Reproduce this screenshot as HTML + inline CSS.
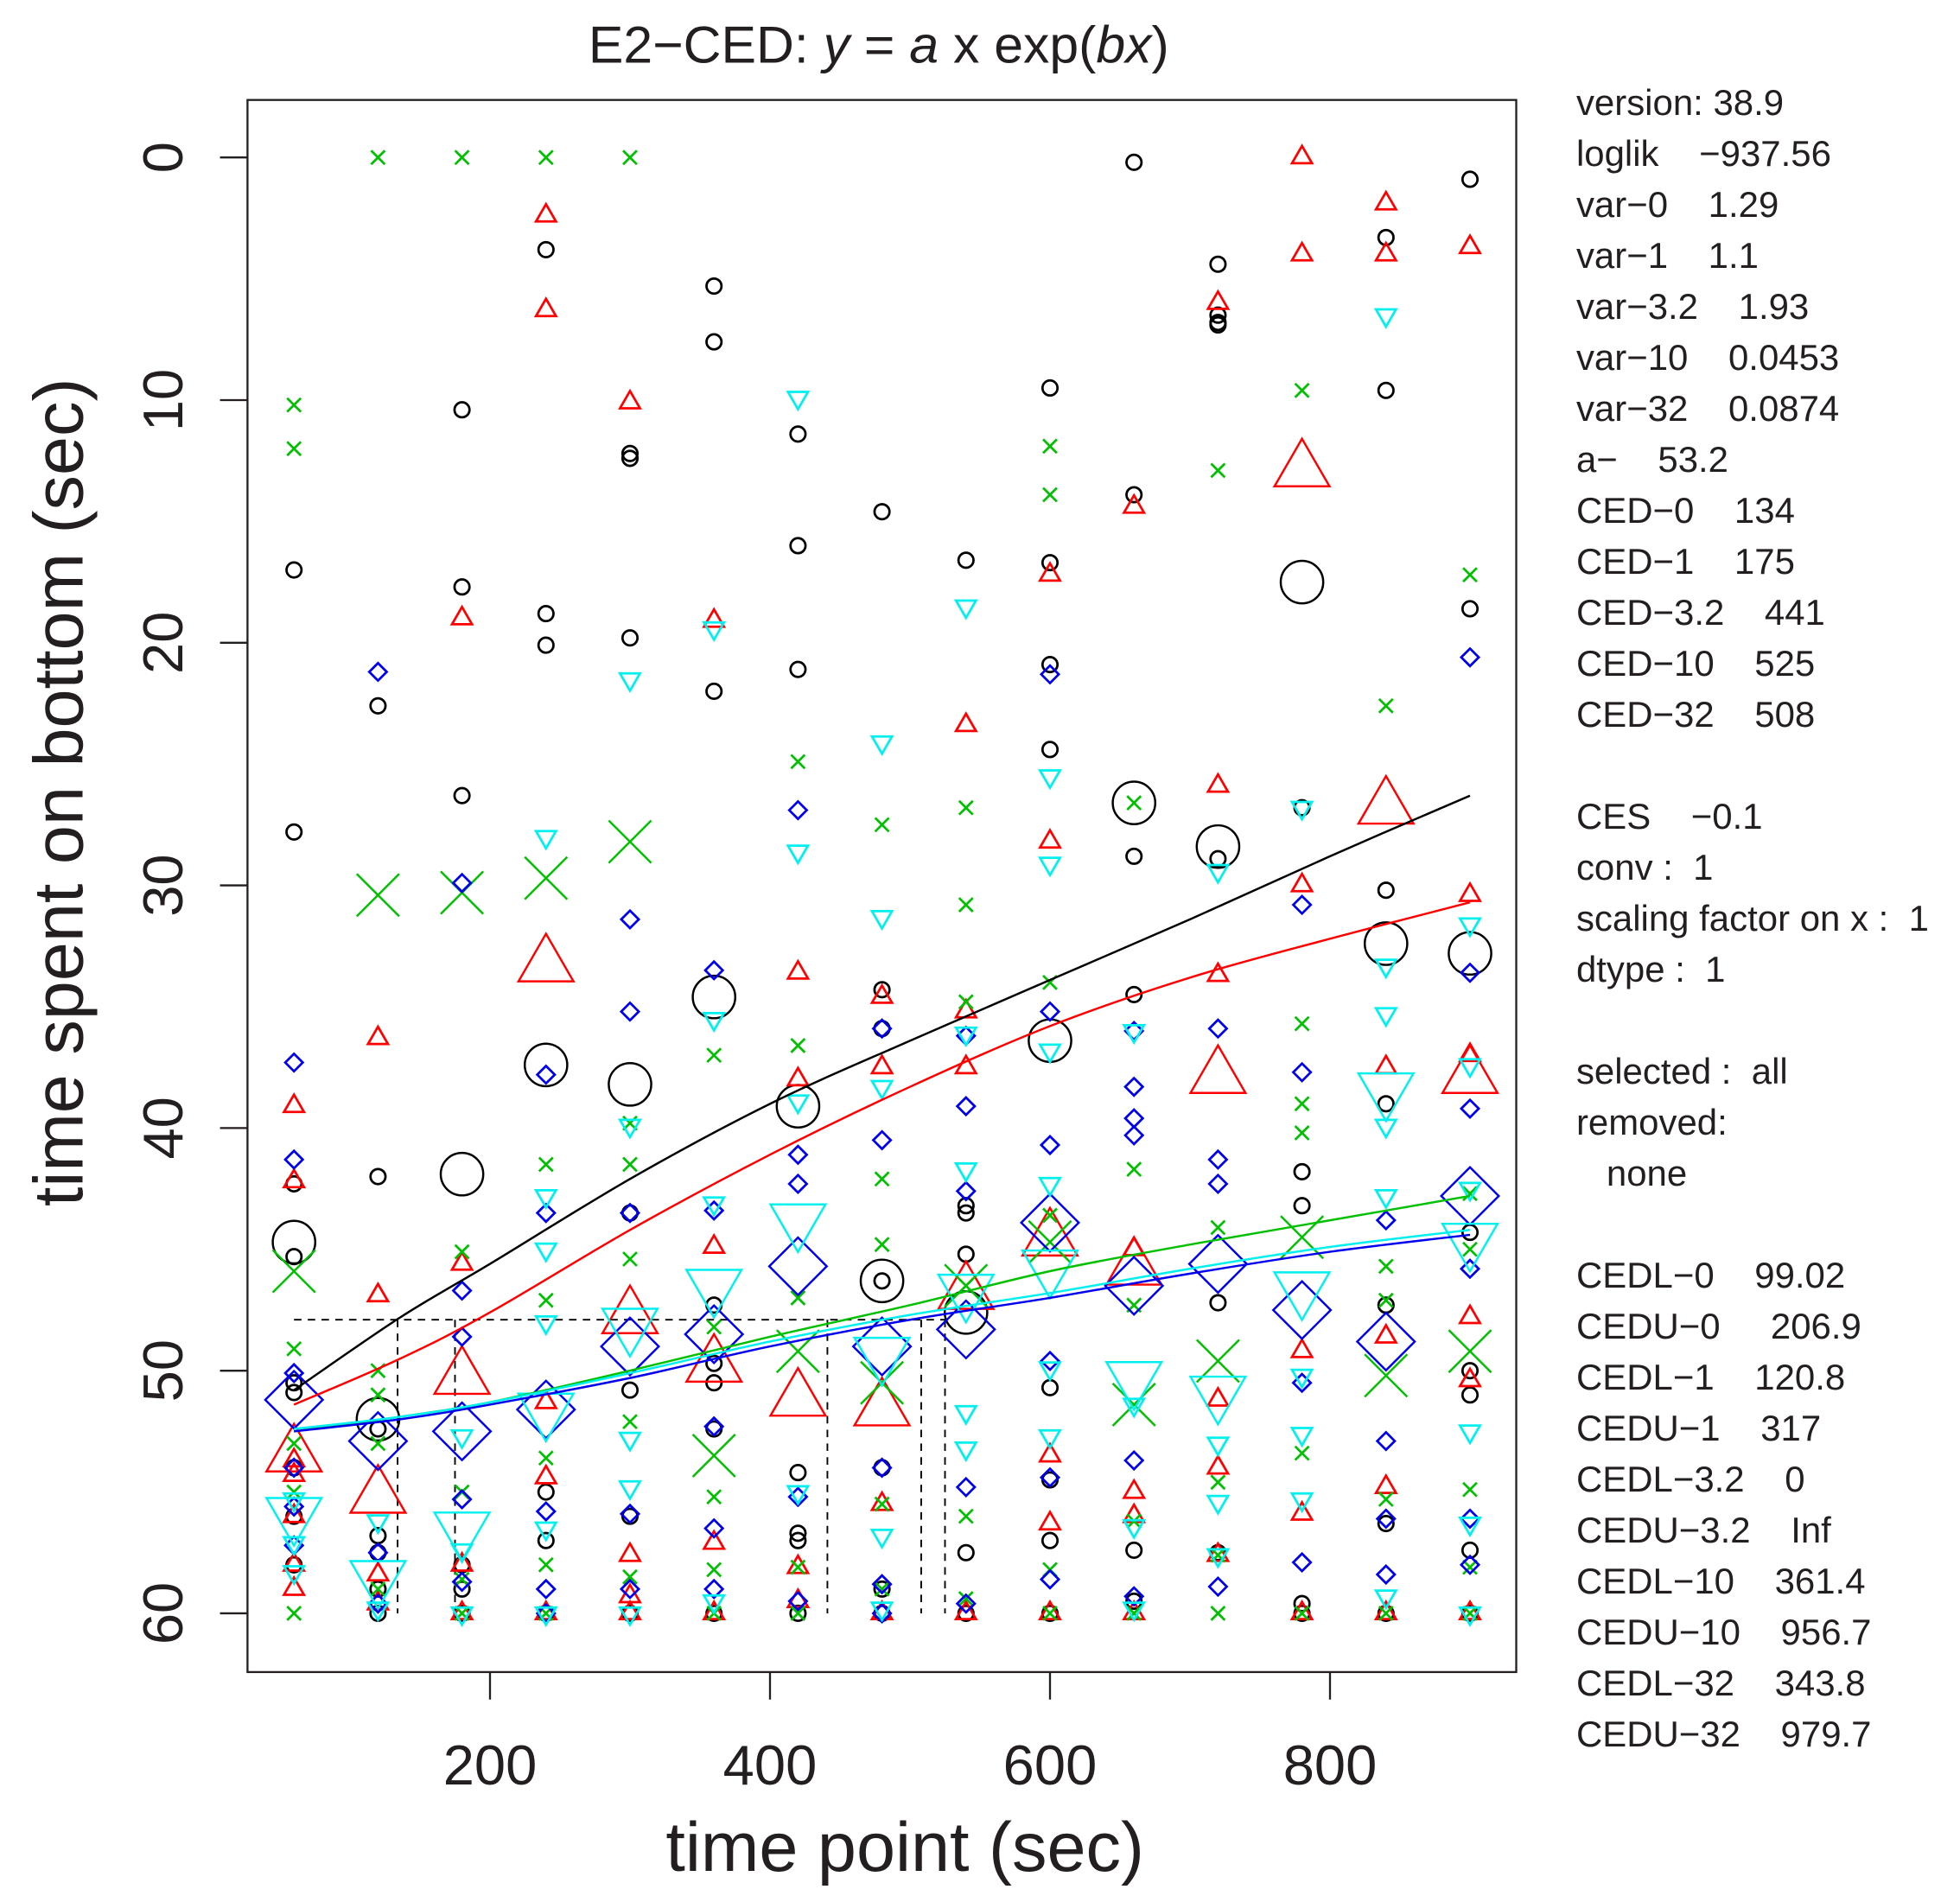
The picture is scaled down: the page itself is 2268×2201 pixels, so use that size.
<!DOCTYPE html>
<html><head><meta charset="utf-8">
<style>
html,body{margin:0;padding:0;background:#fff;}
svg{display:block;}
text{font-family:"Liberation Sans",sans-serif;fill:#231f20;}
</style></head>
<body>
<svg id="chart" width="2268" height="2201" viewBox="0 0 1568 1522" preserveAspectRatio="none" xmlns="http://www.w3.org/2000/svg">
<rect x="0" y="0" width="1568" height="1522" fill="#fff"/>
<text x="703" y="50" font-size="42" text-anchor="middle">E2−CED: <tspan font-style="italic">y</tspan> = <tspan font-style="italic">a</tspan> x exp(<tspan font-style="italic">bx</tspan>)</text>
<rect x="198" y="80" width="1015" height="1258" fill="none" stroke="#231f20" stroke-width="1.6"/>
<text transform="translate(66,634) rotate(-90)" font-size="56" text-anchor="middle">time spent on bottom (sec)</text>
<text x="724" y="1497" font-size="56" text-anchor="middle">time point (sec)</text>
<g id="axes"></g>
<g id="marks"></g>
<g id="curves"></g>
<g id="side" font-size="29"></g>
</svg>
<script>
const timePoints=[60,120,180,240,300,360,420,480,540,600,660,720,780,840,900];
const xTicks=[200,400,600,800];
const yTicks=[0,10,20,30,40,50,60];
const blackPts=[[60,17.0],[60,27.8],[60,42.3],[60,45.3],[60,50.5],[60,50.9],[60,54],[60,56],[60,58],
[120,22.6],[120,42.0],[120,52.4],[120,56.8],[120,57.5],[120,59],[120,60],
[180,10.4],[180,17.7],[180,26.3],[180,58],[180,59],[180,60],
[240,3.8],[240,18.8],[240,20.1],[240,55],[240,57],[240,60],
[300,12.2],[300,12.4],[300,19.8],[300,43.5],[300,50.8],[300,56],[300,60],
[360,5.3],[360,7.6],[360,22],[360,47.3],[360,49.7],[360,50.5],[360,52.4],[360,60],
[420,11.4],[420,16],[420,21.1],[420,54.2],[420,56.7],[420,57],[420,60],
[480,14.6],[480,34.3],[480,35.9],[480,46.3],[480,54],[480,59],[480,60],
[540,16.6],[540,43.2],[540,43.5],[540,45.2],[540,57.5],[540,60],
[600,9.5],[600,16.7],[600,20.9],[600,24.4],[600,50.7],[600,54.5],[600,57],[600,60],
[660,0.2],[660,13.9],[660,28.8],[660,34.5],[660,57.4],[660,59.5],
[720,4.4],[720,6.5],[720,6.8],[720,6.9],[720,28.9],[720,47.2],[720,57.5],
[780,26.8],[780,41.8],[780,43.2],[780,59.6],[780,60],
[840,3.3],[840,9.6],[840,30.2],[840,39],[840,47.3],[840,56.3],[840,60],
[900,0.9],[900,18.6],[900,44.3],[900,50],[900,51],[900,57.4],[900,60]];
const redPts=[[60,39.1],[60,42.2],[60,53.7],[60,54.3],[60,56],[60,58],[60,59],
[120,36.3],[120,46.9],[120,58.4],[120,59.6],
[180,19.0],[180,45.6],[180,58],[180,60],
[240,2.4],[240,6.3],[240,51.3],[240,54.4],[240,60],
[300,10.1],[300,57.6],[300,59.3],[300,60],
[360,19.1],[360,44.9],[360,57.1],[360,60],
[420,33.6],[420,38.0],[420,58.1],[420,59.5],
[480,34.6],[480,37.5],[480,55.5],[480,60],
[540,23.4],[540,35.2],[540,37.5],[540,60],
[600,17.2],[600,28.2],[600,53.5],[600,56.3],[600,60],
[660,14.4],[660,45.0],[660,55],[660,56],[660,60],
[720,6.0],[720,25.9],[720,33.7],[720,51.2],[720,54],[720,57.6],
[780,0],[780,4.0],[780,30.0],[780,49.2],[780,55.9],[780,60],
[840,1.9],[840,4.0],[840,37.5],[840,48.6],[840,54.8],[840,60],
[900,3.7],[900,30.4],[900,37.0],[900,47.8],[900,50.4],[900,60]];
const greenPts=[[60,10.2],[60,12.0],[60,49.1],[60,53],[60,55],[60,60],
[120,0],[120,50],[120,51],[120,53],[120,59],
[180,0],[180,45.1],[180,55],[180,58.6],[180,60],
[240,0],[240,41.5],[240,47.1],[240,53.6],[240,58],[240,60],
[300,0],[300,39.8],[300,41.5],[300,45.4],[300,52.1],[300,58.5],
[360,37.0],[360,48.2],[360,55.2],[360,58.2],[360,60],
[420,24.9],[420,36.6],[420,47],[420,58.1],[420,60],
[480,27.5],[480,42.1],[480,44.8],[480,55.5],[480,59],
[540,26.8],[540,30.8],[540,34.8],[540,46.5],[540,56],[540,59.4],
[600,11.9],[600,13.9],[600,34.0],[600,43.6],[600,58.2],[600,60],
[660,26.6],[660,41.7],[660,47.3],[660,56.2],[660,60],
[720,12.9],[720,44.1],[720,54.6],[720,57.6],[720,60],
[780,9.6],[780,35.7],[780,39],[780,40.2],[780,53.4],[780,60],
[840,22.6],[840,45.7],[840,47.1],[840,55.3],[840,60],
[900,17.2],[900,42.7],[900,45],[900,54.9],[900,58.1],[900,60]];
const bluePts=[[60,37.3],[60,41.3],[60,50.1],[60,54],[60,55.6],[60,57.2],
[120,21.2],[120,57.5],[120,59.6],
[180,29.9],[180,46.7],[180,48.6],[180,55.3],[180,58.7],
[240,37.8],[240,43.5],[240,55.8],[240,59],[240,60],
[300,31.4],[300,35.2],[300,43.5],[300,55.9],[300,59],
[360,33.5],[360,43.4],[360,52.3],[360,56.5],[360,59],
[420,26.9],[420,41.1],[420,42.3],[420,55.2],[420,59.5],
[480,35.9],[480,40.5],[480,54],[480,58.8],[480,60],
[540,36.2],[540,39.1],[540,42.6],[540,54.8],[540,59.6],
[600,21.3],[600,35.2],[600,40.7],[600,49.6],[600,54.4],[600,58.6],
[660,36.0],[660,38.3],[660,39.6],[660,40.3],[660,53.7],[660,59.3],
[720,35.9],[720,41.3],[720,42.3],[720,58.9],
[780,30.8],[780,37.7],[780,50.5],[780,57.9],
[840,43.8],[840,52.9],[840,56.1],[840,58.4],
[900,20.6],[900,33.6],[900,39.2],[900,45.8],[900,56.1],[900,58]];
const cyanPts=[[60,55.3],[60,57.1],[60,58.3],
[120,56.2],[120,59.8],
[180,52.7],[180,57.4],[180,60],
[240,28.0],[240,42.8],[240,45.0],[240,48.0],[240,56.5],[240,60],
[300,21.5],[300,39.9],[300,52.8],[300,54.8],[300,60],
[360,19.4],[360,35.5],[360,43.1],[360,59.5],
[420,9.9],[420,28.6],[420,38.9],[420,55.0],
[480,24.1],[480,31.3],[480,38.3],[480,56.8],[480,59.8],
[540,18.5],[540,36.1],[540,41.7],[540,51.7],[540,53.2],
[600,25.5],[600,29.1],[600,36.8],[600,42.3],[600,49.9],[600,52.7],
[660,36.0],[660,51.4],[660,56.4],[660,59.8],
[720,29.4],[720,53.0],[720,55.4],[720,57.6],
[780,26.8],[780,50.2],[780,52.6],[780,55.3],
[840,6.5],[840,33.3],[840,35.3],[840,39.9],[840,42.8],[840,59.3],
[900,31.6],[900,37.4],[900,42.5],[900,52.5],[900,56.3],[900,60]];
const blackMean=[44.7,52.0,41.9,37.4,38.2,34.6,39.1,46.3,47.6,36.4,26.6,28.4,17.5,32.4,32.8];
const redMean=[53.5,55.2,50.3,33.3,47.8,49.8,51.2,51.6,46.8,44.6,45.8,37.9,12.9,26.8,37.9];
const greenMean=[45.9,30.4,30.3,29.7,28.2,53.5,49.2,50.5,46.5,44.7,51.4,49.6,44.5,50.2,49.2];
const blueMean=[51.2,52.9,52.5,51.6,49.0,48.5,45.7,49.0,48.3,43.9,46.5,45.6,47.5,48.8,42.8];
const cyanMean=[55.9,58.5,56.5,51.6,48.1,46.5,43.8,49.3,46.7,45.7,50.3,50.9,46.6,38.4,44.6];
const curveX=[60,136,200,300,400,500,600,700,800,900];
const blackFit=[50.8,47.8,45.6,42.1,39.0,36.4,33.9,31.4,28.8,26.3];
const redFit=[51.4,49.5,47.6,44.2,41.1,38.3,35.8,33.8,32.2,30.7];
const greenFit=[52.5,51.9,51.3,50.0,48.6,47.3,45.9,44.8,43.8,42.8];
const blueFit=[52.5,52.0,51.4,50.3,49.0,47.9,47.0,46.0,45.1,44.4];
const cyanFit=[52.4,51.9,51.3,50.1,48.8,47.7,46.8,45.8,44.9,44.2];
const cedValues=[134,175,441,508,525];
const cedLevel=47.9;
const sideLines=["version: 38.9","loglik    −937.56","var−0    1.29","var−1    1.1","var−3.2    1.93","var−10    0.0453","var−32    0.0874","a−    53.2","CED−0    134","CED−1    175","CED−3.2    441","CED−10    525","CED−32    508","","CES    −0.1","conv :  1","scaling factor on x :  1","dtype :  1","","selected :  all","removed:","   none","","CEDL−0    99.02","CEDU−0     206.9","CEDL−1    120.8","CEDU−1    317","CEDL−3.2    0","CEDU−3.2    Inf","CEDL−10    361.4","CEDU−10    956.7","CEDL−32    343.8","CEDU−32    979.7"];

const NS="http://www.w3.org/2000/svg";
const X=t=>168+t*1.12;
const Y=v=>126+v*(1165/60);
function mk(tag,attrs,parent){const e=document.createElementNS(NS,tag);for(const k in attrs)e.setAttribute(k,attrs[k]);parent.appendChild(e);return e;}
const axes=document.getElementById('axes');
xTicks.forEach(t=>{
  const l=mk('line',{x1:X(t),x2:X(t),y1:1338,y2:1360,stroke:'#231f20','stroke-width':1.6},axes);
  
  
  const tx=mk('text',{x:X(t),y:1428,'font-size':45,'text-anchor':'middle'},axes);
  tx.textContent=t;
  
  
});
yTicks.forEach(v=>{
  const l=mk('line',{x1:176,x2:198,y1:Y(v),y2:Y(v),stroke:'#231f20','stroke-width':1.6},axes);
  
  
  const tx=mk('text',{transform:`translate(146,${Y(v)}) rotate(-90)`,'font-size':45,'text-anchor':'middle'},axes);
  tx.textContent=v;
  
  
});
const maxCed=Math.max(...cedValues);
const hd=mk('line',{x1:X(60),x2:X(maxCed),y1:Y(cedLevel),y2:Y(cedLevel),stroke:'#000','stroke-width':1.3,'stroke-dasharray':'6,5'},axes);


cedValues.forEach(c=>{
  const l=mk('line',{x1:X(c),x2:X(c),y1:Y(cedLevel),y2:Y(60),stroke:'#000','stroke-width':1.3,'stroke-dasharray':'6,5'},axes);
  
  
});
const marks=document.getElementById('marks');
function sym(kind,cx,cy,s,color,sw,name){
  let e;
  if(kind==='circle'){e=mk('circle',{cx:cx,cy:cy,r:s,fill:'none',stroke:color,'stroke-width':sw},marks);}
  else if(kind==='up'){const h=s*1.73;e=mk('polygon',{points:`${cx-s},${cy+h/3} ${cx+s},${cy+h/3} ${cx},${cy-2*h/3}`,fill:'none',stroke:color,'stroke-width':sw},marks);}
  else if(kind==='down'){const h=s*1.73;e=mk('polygon',{points:`${cx-s},${cy-h/3} ${cx+s},${cy-h/3} ${cx},${cy+2*h/3}`,fill:'none',stroke:color,'stroke-width':sw},marks);}
  else if(kind==='diamond'){e=mk('polygon',{points:`${cx-s},${cy} ${cx},${cy-s} ${cx+s},${cy} ${cx},${cy+s}`,fill:'none',stroke:color,'stroke-width':sw},marks);}
  else {e=mk('path',{d:`M${cx-s},${cy-s}L${cx+s},${cy+s}M${cx-s},${cy+s}L${cx+s},${cy-s}`,fill:'none',stroke:color,'stroke-width':sw},marks);}
  
  
}
const series=[
 {pts:blackPts,mean:blackMean,kind:'circle',color:'#000',s:6,S:17,name:'black'},
 {pts:redPts,mean:redMean,kind:'up',color:'#ff0000',s:8,S:22,name:'red'},
 {pts:greenPts,mean:greenMean,kind:'x',color:'#00c000',s:5.5,S:17,name:'green'},
 {pts:bluePts,mean:blueMean,kind:'diamond',color:'#0000ee',s:7,S:23,name:'blue'},
 {pts:cyanPts,mean:cyanMean,kind:'down',color:'#00f0f0',s:8,S:22,name:'cyan'}];
series.forEach(se=>{
  se.pts.forEach(p=>sym(se.kind,X(p[0]),Y(p[1]),se.s,se.color,1.9,se.name+'-point'));
  se.mean.forEach((v,i)=>sym(se.kind,X(timePoints[i]),Y(v),se.S,se.color,1.7,se.name+'-mean-point'));
});
function smoothPath(xs,ys){
  const P=xs.map((x,i)=>[X(x),Y(ys[i])]);
  let d='M'+P[0][0].toFixed(1)+','+P[0][1].toFixed(1);
  for(let i=0;i<P.length-1;i++){
    const p0=P[i-1]||P[i],p1=P[i],p2=P[i+1],p3=P[i+2]||P[i+1];
    const c1=[p1[0]+(p2[0]-p0[0])/6,p1[1]+(p2[1]-p0[1])/6];
    const c2=[p2[0]-(p3[0]-p1[0])/6,p2[1]-(p3[1]-p1[1])/6];
    d+=`C${c1[0].toFixed(1)},${c1[1].toFixed(1)} ${c2[0].toFixed(1)},${c2[1].toFixed(1)} ${p2[0].toFixed(1)},${p2[1].toFixed(1)}`;
  }
  return d;
}
const curves=document.getElementById('curves');
[[blackFit,'#000','black-fit-curve'],[redFit,'#ff0000','red-fit-curve'],[greenFit,'#00c000','green-fit-curve'],[cyanFit,'#00f0f0','cyan-fit-curve'],[blueFit,'#0000ee','blue-fit-curve']].forEach(c=>{
  const p=mk('path',{d:smoothPath(curveX,c[0]),fill:'none',stroke:c[1],'stroke-width':1.7},curves);
  
  
});
const side=document.getElementById('side');
sideLines.forEach((s,i)=>{
  if(!s)return;
  const t=mk('text',{x:1261,y:92+i*40.8,'xml:space':'preserve'},side);
  t.style.whiteSpace='pre';
  t.textContent=s;
  
  
});
</script>
</body></html>
